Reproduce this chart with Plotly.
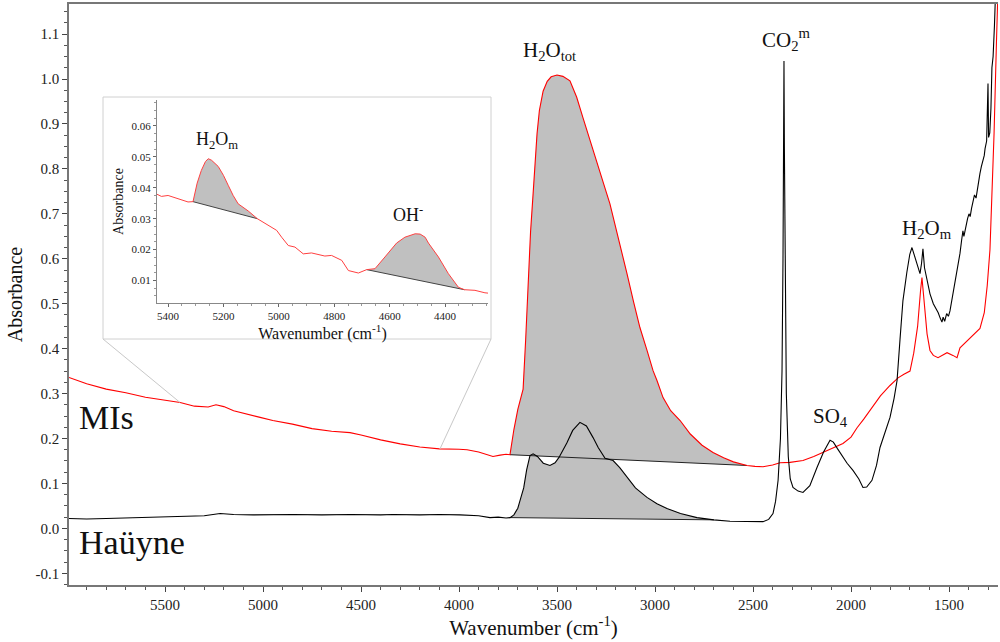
import numpy as np
import plotly.graph_objects as go

# ---------------- spectra (wavenumber cm-1, absorbance) ----------------
mis_wn = [5990, 5900, 5800, 5700, 5600, 5500, 5423, 5350, 5280, 5240, 5200, 5150, 5100, 5015,
          4950, 4850, 4750, 4650, 4556, 4500, 4400, 4300, 4200, 4163, 4100, 4000, 3959, 3900,
          3860, 3827, 3790, 3760, 3740, 3720, 3700, 3685, 3673, 3660, 3645, 3635, 3622, 3610,
          3602, 3590, 3571, 3550, 3530, 3500, 3470, 3434, 3400, 3367, 3330, 3300, 3281, 3250,
          3230, 3200, 3170, 3143, 3110, 3077, 3040, 3010, 2990, 2959, 2920, 2872, 2820, 2760,
          2704, 2650, 2600, 2531, 2490, 2449, 2400, 2362, 2311, 2245, 2190, 2143, 2090, 2041,
          2000, 1969, 1935, 1903, 1850, 1801, 1760, 1730, 1699, 1680, 1660, 1645, 1638, 1630,
          1620, 1612, 1597, 1580, 1556, 1530, 1510, 1480, 1459, 1444, 1400, 1370, 1342, 1320,
          1305, 1291, 1281, 1270, 1258, 1250]
mis_abs = [0.336, 0.322, 0.310, 0.302, 0.292, 0.285, 0.280, 0.272, 0.270, 0.275, 0.271, 0.262,
           0.256, 0.247, 0.240, 0.232, 0.222, 0.216, 0.213, 0.208, 0.197, 0.188, 0.181, 0.179,
           0.177, 0.176, 0.175, 0.170, 0.164, 0.160, 0.163, 0.165, 0.164, 0.220, 0.265, 0.290,
           0.310, 0.420, 0.560, 0.660, 0.745, 0.830, 0.878, 0.930, 0.973, 0.995, 1.005, 1.009,
           1.006, 0.996, 0.960, 0.913, 0.860, 0.820, 0.789, 0.750, 0.722, 0.670, 0.615, 0.567,
           0.505, 0.447, 0.395, 0.351, 0.329, 0.291, 0.262, 0.240, 0.210, 0.185, 0.169, 0.157,
           0.148, 0.140, 0.138, 0.137, 0.141, 0.146, 0.147, 0.151, 0.160, 0.169, 0.180, 0.189,
           0.203, 0.224, 0.243, 0.262, 0.295, 0.318, 0.335, 0.343, 0.350, 0.390, 0.450, 0.530,
           0.558, 0.520, 0.470, 0.433, 0.396, 0.385, 0.380, 0.386, 0.391, 0.385, 0.380, 0.402,
           0.420, 0.432, 0.445, 0.480, 0.540, 0.620, 0.730, 0.880, 1.080, 1.200]

hau_wn = [5990, 5900, 5800, 5700, 5600, 5500, 5400, 5300, 5219, 5150, 5050, 4950, 4847, 4700,
          4550, 4400, 4337, 4200, 4100, 3995, 3900, 3842, 3800, 3760, 3740, 3720, 3700, 3690,
          3670, 3655, 3638, 3622, 3600, 3570, 3536, 3510, 3490, 3450, 3420, 3383, 3350, 3316,
          3290, 3255, 3230, 3214, 3180, 3143, 3100, 3041, 2990, 2939, 2870, 2786, 2700, 2617,
          2530, 2449, 2420, 2398, 2385, 2372, 2360, 2352, 2347, 2344, 2342, 2340, 2336, 2330,
          2320, 2310, 2296, 2270, 2245, 2210, 2173, 2140, 2107, 2090, 2070, 2041, 2020, 1990,
          1960, 1939, 1920, 1893, 1870, 1852, 1830, 1801, 1780, 1765, 1750, 1735, 1715, 1700,
          1689, 1682, 1675, 1660, 1648, 1640, 1633, 1625, 1610, 1597,
          1580, 1565, 1555, 1545, 1536, 1530, 1522, 1512, 1503, 1495, 1480, 1470,
          1460, 1450, 1444, 1436, 1429, 1424, 1415, 1405, 1398, 1392, 1385, 1378,
          1370, 1362, 1355, 1348, 1342, 1335, 1328, 1320, 1316, 1308, 1301, 1298,
          1292, 1286, 1281, 1275, 1268, 1262]
hau_abs = [0.022, 0.021, 0.022, 0.023, 0.024, 0.025, 0.026, 0.028, 0.033, 0.031, 0.030, 0.031,
           0.031, 0.030, 0.031, 0.030, 0.031, 0.030, 0.031, 0.030, 0.028, 0.024, 0.025, 0.023,
           0.024, 0.030, 0.045, 0.060, 0.090, 0.130, 0.162, 0.166, 0.160, 0.145, 0.140, 0.146,
           0.158, 0.190, 0.218, 0.236, 0.228, 0.202, 0.180, 0.156, 0.153, 0.151, 0.135, 0.113,
           0.090, 0.069, 0.055, 0.044, 0.033, 0.024, 0.019, 0.016, 0.015, 0.015, 0.020, 0.033,
           0.060, 0.107, 0.200, 0.350, 0.600, 0.900, 1.040, 0.850, 0.550, 0.300, 0.160, 0.110,
           0.091, 0.083, 0.080, 0.095, 0.136, 0.170, 0.196, 0.192, 0.178, 0.158, 0.145, 0.129,
           0.110, 0.091, 0.092, 0.107, 0.140, 0.180, 0.210, 0.247, 0.290, 0.329, 0.420, 0.507,
           0.570, 0.610,
           0.625, 0.615, 0.605, 0.580, 0.567, 0.590, 0.622, 0.580, 0.550, 0.522,
           0.500, 0.488, 0.480, 0.468, 0.459, 0.470, 0.461, 0.478, 0.472, 0.484, 0.520, 0.545,
           0.575, 0.598, 0.612, 0.640, 0.662, 0.650, 0.672, 0.690, 0.700, 0.694, 0.712, 0.730,
           0.742, 0.735, 0.758, 0.775, 0.790, 0.805, 0.818, 0.830, 0.845, 0.862, 0.990, 0.870,
           0.880, 0.935, 1.025, 1.050, 1.120, 1.200]

# Near-IR detail of the MI spectrum shown in the inset
nir_wn = [5440, 5424, 5400, 5376, 5352, 5328, 5310, 5295, 5280, 5265, 5255, 5243, 5219, 5200,
          5183, 5165, 5147, 5111, 5078, 5039, 5008, 4990, 4966, 4942, 4912, 4882, 4834, 4810,
          4773, 4749, 4713, 4683, 4653, 4617, 4575, 4545, 4508, 4490, 4472, 4460, 4424, 4388,
          4352, 4330, 4292, 4256, 4245]
nir_abs = [0.0379, 0.0372, 0.0375, 0.0368, 0.0359, 0.0354, 0.0355, 0.0415, 0.0456, 0.0485,
           0.0494, 0.0489, 0.0469, 0.0440, 0.0408, 0.0375, 0.0348, 0.0325, 0.0300, 0.0278,
           0.0262, 0.0240, 0.0213, 0.0208, 0.0186, 0.0189, 0.0179, 0.0181, 0.0165, 0.0132,
           0.0124, 0.0135, 0.0138, 0.0176, 0.0221, 0.0240, 0.0251, 0.0250, 0.0240, 0.0221,
           0.0176, 0.0122, 0.0078, 0.0070, 0.0068, 0.0060, 0.0059]

# Integration limits (wavenumber) of the shaded bands
mis_band = (3740, 2531)
hau_band = (3740, 2700)
nir_bands = [(5310, 5078), (4683, 4330)]

# Axis ticks
x_ticks = [5500, 5000, 4500, 4000, 3500, 3000, 2500, 2000, 1500]
y_ticks = [-0.1, 0.0, 0.1, 0.2, 0.3, 0.4, 0.5, 0.6, 0.7, 0.8, 0.9, 1.0, 1.1]
y_ticktext = ["-0.1", "0.0", "0.1", "0.2", "0.3", "0.4", "0.5", "0.6", "0.7", "0.8", "0.9", "1.0", "1.1"]
inset_x_ticks = [5400, 5200, 5000, 4800, 4600, 4400]
inset_y_ticks = [0.01, 0.02, 0.03, 0.04, 0.05, 0.06]

# ---------------- layout geometry ----------------
W, H = 1000, 642
ML, MR, MT, MB = 69, 2, 4, 57
X_RANGE = [5990, 1250]
Y_RANGE = [-0.126, 1.167]
PW, PH = W - ML - MR, H - MT - MB

def px2paper(x, y):
    return (x - ML) / PW, (H - MB - y) / PH

def data2paper(wn, a):
    return ((X_RANGE[0] - wn) / (X_RANGE[0] - X_RANGE[1]),
            (a - Y_RANGE[0]) / (Y_RANGE[1] - Y_RANGE[0]))

SERIF = "Liberation Serif"
FILL = "#c0c0c0"

fig = go.Figure()


def band(wn, ab, lo_hi, xaxis="x", yaxis="y"):
    """Shaded area between a band and its straight baseline."""
    wn = np.asarray(wn, float)
    ab = np.asarray(ab, float)
    hi, lo = lo_hi
    m = (wn <= hi) & (wn >= lo)
    bx, by = wn[m], ab[m]
    fig.add_trace(go.Scatter(x=bx, y=by, mode="lines", fill="toself", fillcolor=FILL,
                             line=dict(width=0), hoverinfo="skip", showlegend=False,
                             xaxis=xaxis, yaxis=yaxis))
    return [bx[0], bx[-1]], [by[0], by[-1]]


base_m = band(mis_wn, mis_abs, mis_band)
base_h = band(hau_wn, hau_abs, hau_band)
for bx, by in (base_m, base_h):
    fig.add_trace(go.Scatter(x=bx, y=by, mode="lines", line=dict(color="#222", width=1),
                             hoverinfo="skip", showlegend=False))

fig.add_trace(go.Scatter(x=mis_wn, y=mis_abs, mode="lines", name="MIs",
                         line=dict(color="#ff0000", width=1.1), showlegend=False))
fig.add_trace(go.Scatter(x=hau_wn, y=hau_abs, mode="lines", name="Haüyne",
                         line=dict(color="#000000", width=1.1), showlegend=False))

# inset traces
for b in nir_bands:
    bx, by = band(nir_wn, nir_abs, b, "x2", "y2")
    fig.add_trace(go.Scatter(x=bx, y=by, mode="lines", line=dict(color="#444", width=1),
                             xaxis="x2", yaxis="y2", hoverinfo="skip", showlegend=False))
fig.add_trace(go.Scatter(x=nir_wn, y=nir_abs, mode="lines", line=dict(color="#ff4040", width=1),
                         xaxis="x2", yaxis="y2", showlegend=False))

# inset frame and connectors
bx0, by0 = px2paper(103, 339)
bx1, by1 = px2paper(491, 97)
shapes = [dict(type="rect", xref="paper", yref="paper", x0=bx0, y0=by0, x1=bx1, y1=by1,
               fillcolor="white", line=dict(color="#d0d0d0", width=1), layer="below")]
for corner_x, wn_t in ((bx0, 5423), (bx1, 4097)):
    a_t = float(np.interp(wn_t, mis_wn[::-1], mis_abs[::-1]))
    tx, ty = data2paper(wn_t, a_t)
    shapes.append(dict(type="line", xref="paper", yref="paper", x0=corner_x, y0=by0,
                       x1=tx, y1=ty, line=dict(color="#c8c8c8", width=1)))

ix0, iy0 = px2paper(157, 303)
ix1, iy1 = px2paper(488, 100)

axis_font = dict(family=SERIF, size=15, color="#222")

fig.update_layout(
    width=W, height=H,
    margin=dict(l=ML, r=MR, t=MT, b=MB),
    paper_bgcolor="white", plot_bgcolor="white",
    font=dict(family=SERIF, color="#111"),
    shapes=shapes,
    xaxis=dict(range=X_RANGE, tickvals=x_ticks, ticks="outside", ticklen=5, tickcolor="#444",
               showline=True, linecolor="#777", linewidth=1.5, mirror=True, showgrid=False,
               zeroline=False, tickfont=axis_font,
               minor=dict(dtick=100, ticks="outside", ticklen=3, tickcolor="#555"),
               title=dict(text="Wavenumber (cm<sup>-1</sup>)", font=dict(family=SERIF, size=21),
                          standoff=8)),
    yaxis=dict(range=Y_RANGE, tickvals=y_ticks, ticktext=y_ticktext, ticks="outside", ticklen=5,
               tickcolor="#444", showline=True, linecolor="#777", linewidth=1.5, showgrid=False,
               zeroline=False, tickfont=axis_font,
               minor=dict(tickvals=list(np.round(np.arange(-0.125, 1.17, 0.025), 3)),
                          ticks="outside", ticklen=3, tickcolor="#555"),
               title=dict(text="Absorbance", font=dict(family=SERIF, size=20), standoff=8)),
    xaxis2=dict(domain=[ix0, ix1], anchor="y2", range=[5440, 4245], tickvals=inset_x_ticks,
                ticks="outside", ticklen=3, tickcolor="#666", showline=True, linecolor="#888",
                showgrid=False, zeroline=False, tickfont=dict(family=SERIF, size=11, color="#222"),
                minor=dict(dtick=50, ticks="outside", ticklen=2, tickcolor="#999"),
                title=dict(text="Wavenumber (cm<sup>-1</sup>)", font=dict(family=SERIF, size=16),
                           standoff=2)),
    yaxis2=dict(domain=[iy0, iy1], anchor="x2", range=[0.0027, 0.0684], tickvals=inset_y_ticks,
                ticks="outside", ticklen=3, tickcolor="#666", showline=True, linecolor="#888",
                showgrid=False, zeroline=False, tickfont=dict(family=SERIF, size=11, color="#222"),
                minor=dict(dtick=0.0025, ticks="outside", ticklen=2, tickcolor="#999"),
                title=dict(text="Absorbance", font=dict(family=SERIF, size=14), standoff=4)),
)

ann_font = dict(family=SERIF, size=21, color="#111")
annotations = [
    dict(x=3536, y=1.062, text="H<sub>2</sub>O<sub>tot</sub>"),
    dict(x=2327, y=1.089, text="CO<sub>2</sub><sup>m</sup>"),
    dict(x=2107, y=0.247, text="SO<sub>4</sub>"),
    dict(x=1612, y=0.667, text="H<sub>2</sub>O<sub>m</sub>"),
]
for a in annotations:
    fig.add_annotation(xref="x", yref="y", showarrow=False, font=ann_font, **a)
fig.add_annotation(xref="x", yref="y", x=5949, y=0.247, text="MIs", xanchor="left",
                   showarrow=False, font=dict(family=SERIF, size=34, color="#111"))
fig.add_annotation(xref="x", yref="y", x=5949, y=-0.031, text="Haüyne", xanchor="left",
                   showarrow=False, font=dict(family=SERIF, size=34, color="#111"))
fig.add_annotation(xref="x2", yref="y2", x=5225, y=0.0554, text="H<sub>2</sub>O<sub>m</sub>",
                   showarrow=False, font=dict(family=SERIF, size=18, color="#111"))
fig.add_annotation(xref="x2", yref="y2", x=4533, y=0.0316, text="OH<sup>-</sup>",
                   showarrow=False, font=dict(family=SERIF, size=18, color="#111"))

fig.write_html("out.html")
